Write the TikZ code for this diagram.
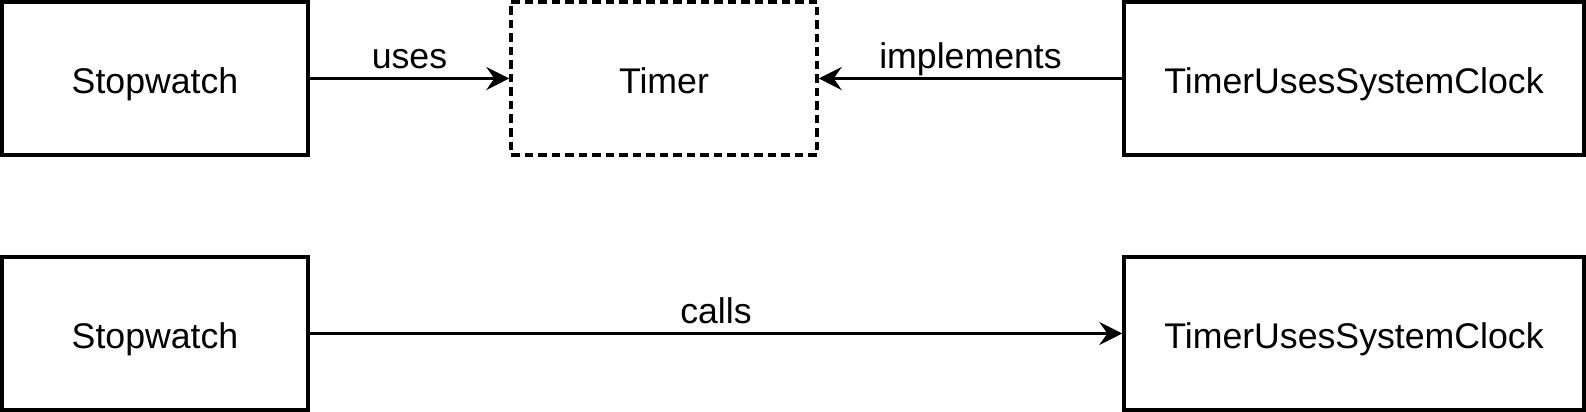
\documentclass[tikz,border=0pt]{standalone}
\usepackage{fontspec}
\setmainfont{Liberation Sans}
\usetikzlibrary{arrows.meta, positioning}

\tikzset{
  box/.style={draw, line width=2pt, minimum width=6.12cm, minimum height=3.06cm,
              inner sep=0pt, text height=17pt, text depth=0pt,
              font=\fontsize{20.3}{24}\selectfont},
  widebox/.style={box, minimum width=9.2cm},
  dashbox/.style={box, dash pattern=on 0.17cm off 0.1cm},
  link/.style={line width=2pt, -{Stealth[length=13pt, width=13pt, inset=4.5pt]}},
  lbl/.style={anchor=base, yshift=0.19cm, inner sep=0pt, font=\fontsize{20.3}{24}\selectfont}
}

\begin{document}
\begin{tikzpicture}
  \useasboundingbox (0,0) rectangle (31.72,8.24);

  % top row: via the interface
  \node[box]      (watchA) at (3.10,6.67)  {Stopwatch};
  \node[dashbox]  (timer)  at (13.28,6.67) {Timer};
  \node[widebox]  (clockA) at (27.08,6.67) {TimerUsesSystemClock};

  % bottom row: direct call
  \node[box]      (watchB) at (3.10,1.57)  {Stopwatch};
  \node[widebox]  (clockB) at (27.08,1.57) {TimerUsesSystemClock};

  \draw[link] (watchA) -- node[lbl] {uses} (timer);
  \draw[link] (clockA) -- node[lbl] {implements} (timer);
  \draw[link] (watchB) -- node[lbl] {calls} (clockB);
\end{tikzpicture}
\end{document}
